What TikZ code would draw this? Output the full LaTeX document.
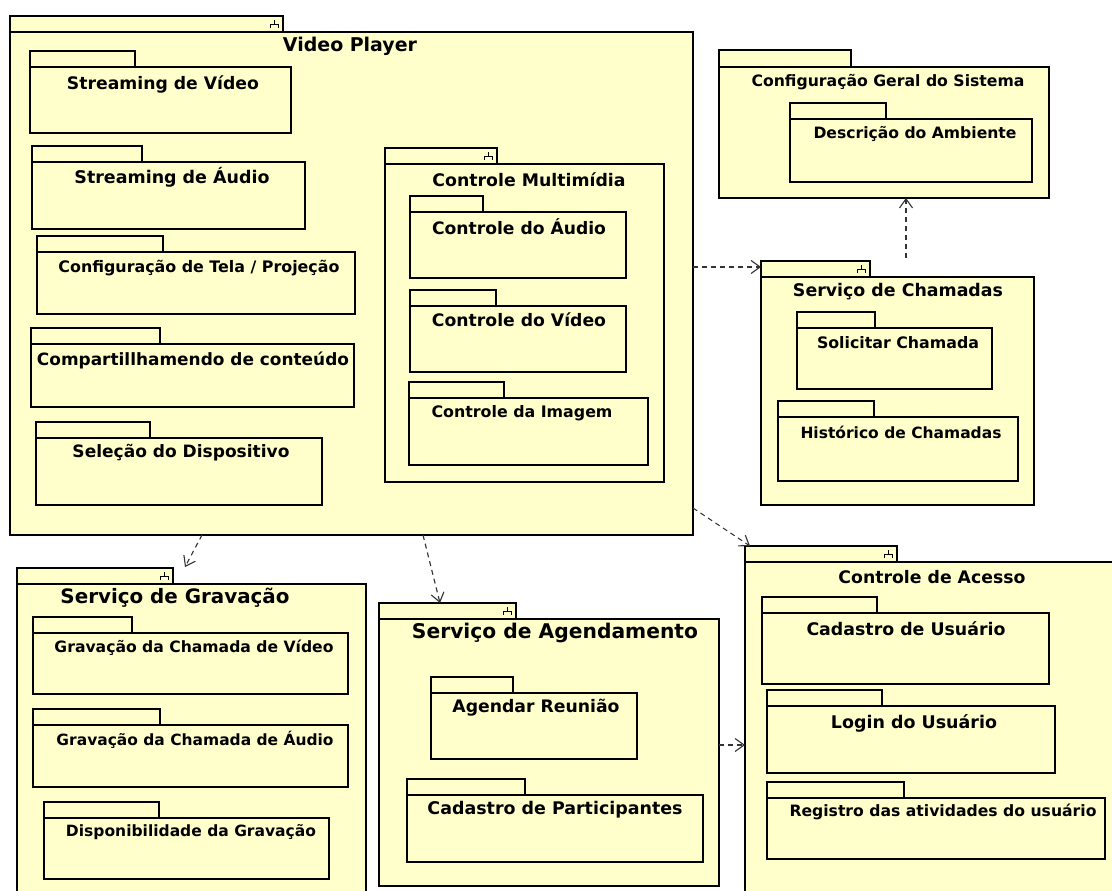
\documentclass[tikz,border=0pt]{standalone}
\usepackage{fontspec}
\setmainfont{DejaVu Sans}
\usetikzlibrary{arrows.meta,fit}
\definecolor{pkgfill}{RGB}{255,255,204}
\tikzset{
  pkgbox/.style={draw=black, fill=pkgfill, line width=2pt, inner sep=0pt, outer sep=0pt},
  subbox/.style={pkgbox, line width=1.8pt},
  lbl/.style={inner sep=0pt, outer sep=0pt, font=\bfseries},
  dep/.style={draw=black!80, line width=1.1pt, dash pattern=on 5pt off 4pt,
    -{Straight Barb[length=9pt,width=13pt,line width=1.1pt]}},
  pkgicon/.style={draw=black, line width=0.9pt}
}
% \pkgdraw[style]{name}{x1}{ytab}{xtab}{ybody}{x2}{y2}
\newcommand\pkgdraw[8][pkgbox]{%
  \node[#1, fit={(#3,#4) (#5,#6)}] (#2tab) {};
  \node[#1, fit={(#3,#6) (#7,#8)}] (#2) {};
}
\newcommand\pkgmark[1]{%
  \draw[pkgicon] ([xshift=-9pt,yshift=4pt]#1tab.east) -- ++(0,4) ++(-4,0) -- ++(8,0)
    ++(-8,0) -- ++(0,4) ++(8,-4) -- ++(0,4);
}
\newcommand\lab[5]{% name, x, y, width, text
  \node[lbl] (#1) at (#2,#3) {\resizebox{#4pt}{!}{#5}};
}
\begin{document}
\begin{tikzpicture}[x=1pt,y=-1pt]
\useasboundingbox (0,0) rectangle (1112,891);
\clip (0,0) rectangle (1112,891);
\fill[white] (0,0) rectangle (1112,891);

% Video Player
\pkgdraw{vp}{10}{16}{283}{32}{693}{535}
\pkgmark{vp}
\lab{vpL}{350}{46}{134}{Video Player}
\pkgdraw[subbox]{sv}{30}{51}{135}{67}{291}{133}
\lab{svL}{163}{84}{192}{Streaming de Vídeo}
\pkgdraw[subbox]{saud}{32}{146}{142}{162}{305}{229}
\lab{saudL}{172}{177}{195}{Streaming de Áudio}
\pkgdraw[subbox]{ctp}{37}{236}{163}{252}{355}{314}
\lab{ctpL}{199}{268}{281}{Configuração de Tela / Projeção}
\pkgdraw[subbox]{cc}{31}{328}{160}{344}{354}{407}
\lab{ccL}{193}{360}{312}{Compartillhamendo de conteúdo}
\pkgdraw[subbox]{sd}{36}{422}{150}{438}{322}{505}
\lab{sdL}{181}{453}{217}{Seleção do Dispositivo}

% Controle Multimidia
\pkgdraw[subbox]{cm}{385}{148}{497}{164}{664}{482}
\pkgmark{cm}
\lab{cmL}{529}{180}{193}{Controle Multimídia}
\pkgdraw[subbox]{caud}{410}{196}{483}{212}{626}{278}
\lab{caudL}{519}{227}{174}{Controle do Áudio}
\pkgdraw[subbox]{cvid}{410}{290}{496}{306}{626}{372}
\lab{cvidL}{519}{320}{174}{Controle do Vídeo}
\pkgdraw[subbox]{cimg}{409}{382}{504}{398}{648}{465}
\lab{cimgL}{522}{413}{181}{Controle da Imagem}

% Configuracao Geral
\pkgdraw{cfg}{719}{50}{851}{67}{1049}{198}
\lab{cfgL}{888}{82}{273}{Configuração Geral do Sistema}
\pkgdraw[subbox]{da}{790}{103}{886}{119}{1032}{182}
\lab{daL}{915}{134}{203}{Descrição do Ambiente}

% Servico de Chamadas
\pkgdraw{sc}{761}{261}{870}{277}{1034}{505}
\pkgmark{sc}
\lab{scL}{898}{292}{210}{Serviço de Chamadas}
\pkgdraw[subbox]{solc}{797}{312}{875}{328}{992}{389}
\lab{solcL}{898}{343}{162}{Solicitar Chamada}
\pkgdraw[subbox]{hist}{778}{401}{874}{417}{1018}{481}
\lab{histL}{901}{432}{201}{Histórico de Chamadas}

% Servico de Gravacao
\pkgdraw{sg}{17}{568}{173}{584}{366}{900}
\pkgmark{sg}
\lab{sgL}{175}{598}{229}{Serviço de Gravação}
\pkgdraw[subbox]{gcv}{33}{617}{132}{633}{348}{694}
\lab{gcvL}{194}{648}{279}{Gravação da Chamada de Vídeo}
\pkgdraw[subbox]{gca}{33}{709}{160}{725}{348}{787}
\lab{gcaL}{195}{740}{277}{Gravação da Chamada de Áudio}
\pkgdraw[subbox]{dg}{44}{802}{159}{818}{329}{879}
\lab{dgL}{191}{832}{250}{Disponibilidade da Gravação}

% Servico de Agendamento
\pkgdraw{sag}{379}{603}{516}{619}{719}{886}
\pkgmark{sag}
\lab{sagL}{555}{633}{286}{Serviço de Agendamento}
\pkgdraw[subbox]{ar}{431}{677}{513}{693}{637}{759}
\lab{arL}{536}{708}{167}{Agendar Reunião}
\pkgdraw[subbox]{cp}{407}{779}{525}{795}{703}{862}
\lab{cpL}{555}{810}{255}{Cadastro de Participantes}

% Controle de Acesso
\pkgdraw{ca}{745}{546}{897}{562}{1125}{900}
\pkgmark{ca}
\lab{caL}{932}{577}{187}{Controle de Acesso}
\pkgdraw[subbox]{cu}{762}{597}{877}{613}{1049}{684}
\lab{cuL}{906}{629}{199}{Cadastro de Usuário}
\pkgdraw[subbox]{lu}{767}{690}{882}{706}{1055}{773}
\lab{luL}{914}{723}{166}{Login do Usuário}
\pkgdraw[subbox]{rau}{767}{782}{904}{798}{1105}{859}
\lab{rauL}{943}{812}{307}{Registro das atividades do usuário}

% Dependencies
\draw[dep] (vp.east |- 0,267) -- (sctab.west |- 0,267);
\draw[dep] ([xshift=145pt,yshift=3pt]sctab.north west) -- (cfg.south -| 906,0);
\draw[dep] ([yshift=27pt]vp.south east) -- ([xshift=5pt]catab.north west);
\draw[dep] ([xshift=192pt]vp.south west) -- ([xshift=168pt,yshift=1pt]sgtab.north west);
\draw[dep] ([xshift=413pt]vp.south west) -- ([xshift=61pt]sagtab.north west);
\draw[dep] (sag.east |- 0,745) -- (ca.west |- 0,745);
\end{tikzpicture}
\end{document}
